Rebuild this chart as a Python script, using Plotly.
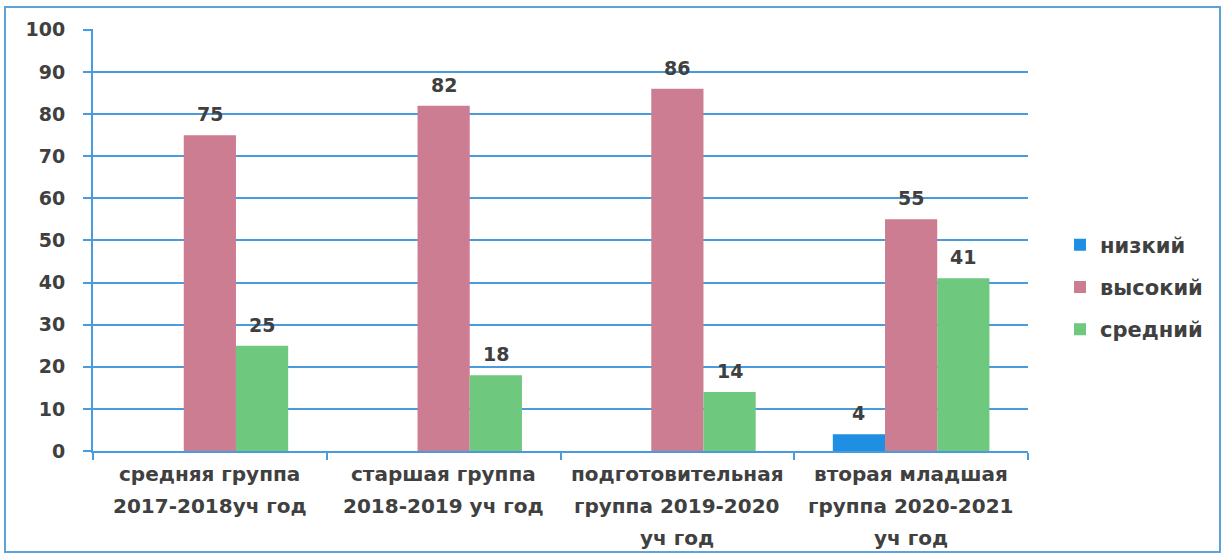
import plotly.graph_objects as go

categories = [
    "средняя группа<br>2017-2018уч год",
    "старшая группа<br>2018-2019 уч год",
    "подготовительная<br>группа 2019-2020<br>уч год",
    "вторая младшая<br>группа 2020-2021<br>уч год",
]
series_names = ["низкий", "высокий", "средний"]
low_vals = [0, 0, 0, 4]
high_vals = [75, 82, 86, 55]
mid_vals = [25, 18, 14, 41]
y_ticks = [0, 10, 20, 30, 40, 50, 60, 70, 80, 90, 100]

colors = ["#1E8FE3", "#CC7D92", "#6EC87D"]
txt = "#404040"
blue_line = "#4A9BDB"
font_family = "DejaVu Sans"
BARGAP = 0.33

fig = go.Figure()
all_vals = [low_vals, high_vals, mid_vals]
for name, vals, col in zip(series_names, all_vals, colors):
    fig.add_trace(go.Bar(
        x=categories, y=vals, name=name,
        marker=dict(color=col, line=dict(width=0)),
        legendgroup=name,
    ))

annotations = []
# data labels above bars
nser = len(all_vals)
bw = (1 - BARGAP) / nser
for k, vals in enumerate(all_vals):
    for i, v in enumerate(vals):
        if v:
            annotations.append(dict(
                x=i + (k - (nser - 1) / 2) * bw, y=v, xref="x", yref="y",
                text=str(v), showarrow=False, yanchor="middle", yshift=21,
                font=dict(size=19, color=txt, family=font_family, weight="bold"),
            ))
# category labels, one line at a time
for i, cat in enumerate(categories):
    for j, line in enumerate(cat.split("<br>")):
        annotations.append(dict(
            x=i, y=0, xref="x", yref="y", text=line, showarrow=False,
            yanchor="middle", yshift=-(23 + 32 * j),
            font=dict(size=20, color=txt, family=font_family, weight="bold"),
        ))

L, R, T, B = 93, 200, 29, 109
W, H = 1228, 560
pw, ph = W - L - R, H - T - B

fig.update_layout(
    width=W, height=H,
    margin=dict(l=L, r=R, t=T, b=B, autoexpand=False),
    paper_bgcolor="white", plot_bgcolor="white",
    barmode="group", bargap=BARGAP, bargroupgap=0,
    font=dict(family=font_family, color=txt, size=19),
    legend=dict(
        x=(1060 - L) / pw, y=(451 - 287) / ph, xanchor="left", yanchor="middle",
        font=dict(size=21, color=txt, family=font_family, weight="bold"),
        tracegroupgap=12, bgcolor="rgba(0,0,0,0)",
    ),
    xaxis=dict(
        showline=True, linecolor=blue_line, linewidth=2,
        ticks="outside", tickson="boundaries", ticklen=7, tickcolor=blue_line, tickwidth=2,
        showticklabels=False, showgrid=False, automargin=False,
        range=[-0.5, len(categories) - 0.5],
    ),
    yaxis=dict(
        range=[0, 100.2], tickvals=y_ticks, showline=True, linecolor=blue_line, linewidth=2,
        ticks="outside", ticklen=8, tickcolor=blue_line, tickwidth=2,
        showgrid=True, gridcolor=blue_line, gridwidth=1.6, zeroline=False,
        tickfont=dict(size=19, color=txt, weight="bold"), ticklabelstandoff=14,
        automargin=False,
    ),
    annotations=annotations,
    shapes=[dict(
        type="rect", xref="paper", yref="paper",
        x0=(5 - L) / pw, x1=(1220 - L) / pw,
        y0=(H - B - 552) / ph, y1=(H - B - 7) / ph,
        line=dict(color="#5AA3DC", width=2), fillcolor="rgba(0,0,0,0)", layer="below",
    )],
)

fig.write_html("out.html", config={"displayModeBar": False},
               post_script="document.body.style.margin='0';")
